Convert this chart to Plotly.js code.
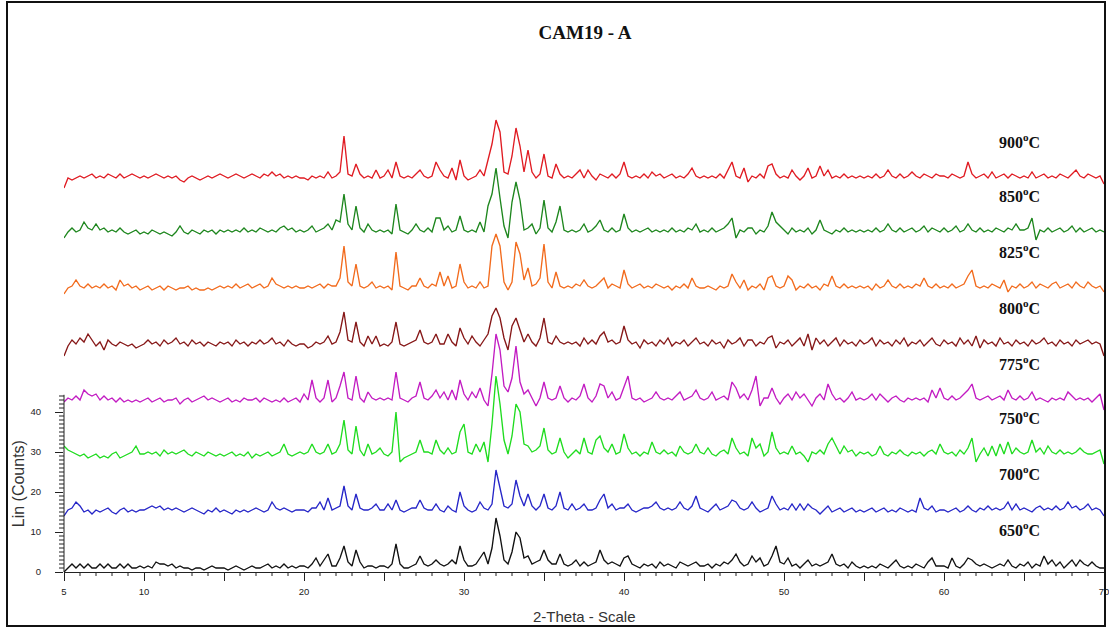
<!DOCTYPE html>
<html>
<head>
<meta charset="utf-8">
<script src="https://cdn.plot.ly/plotly-3.0.1.min.js"></script>
<style>
  html, body { margin: 0; padding: 0; background: #fff; }
  #wrap { position: relative; width: 1109px; height: 630px; }
  #chart { position: absolute; left: 0; top: 0; width: 1109px; height: 630px; }
  #frame { position: absolute; left: 6px; top: 1px; width: 1100px; height: 626px;
           box-sizing: border-box; border: 2px solid #111; pointer-events: none; }
</style>
</head>
<body>
<div id="wrap"><div id="chart"></div><div id="frame"></div></div>
<script>
// XRD scans of sample CAM19-A after firing at different temperatures.
// Scan: 5..70 deg 2-theta, 0.25 deg step. Each pattern is stacked with its own offset.
const scanStart = 5;
const scanStep = 0.25;

const temperatures = ['650', '700', '750', '775', '800', '825', '850', '900'];
const offsets = [0, 14, 28, 41.5, 55.5, 69.5, 83.5, 97];
const colors = ['#111111', '#2626c8', '#1fdc1f', '#c21bc2', '#861717', '#f26b1d', '#1d861d', '#e01b22'];

const counts650 = [
  0, 1, 2, 1, 2, 1, 2, 1, 1, 2, 1, 2, 1, 1, 2, 1, 2, 1, 1, 1.5,
  1, 1.5, 1, 2.5, 2, 2, 1.5, 2, 1, 1.5, 1, 1, 0.5, 1, 1, 0.5, 1, 1.5, 1, 1,
  1, 0.5, 1, 1.5, 1, 0.5, 1, 1.5, 1, 1, 1.5, 2, 1, 1.5, 1, 2, 1, 1.5, 1, 1.5,
  1.5, 1, 2, 3.5, 1.5, 3, 4.5, 1.5, 1.5, 3.5, 6.5, 2.5, 1.5, 5.5, 2.5, 1, 1.5, 1.5, 1, 1.5,
  1.5, 1, 2, 7, 2, 1, 1, 1.5, 2, 4, 2, 1.5, 2, 3, 2, 1.5, 2, 3, 2, 6.5,
  3, 1.5, 1.5, 2, 3.5, 5, 2, 6, 13.5, 9, 3, 2, 5, 10, 8.5, 3.5, 4, 2, 2.5, 3,
  5.5, 3, 2, 2, 4.5, 2, 1.5, 2, 3, 1.5, 2.5, 1.5, 2, 2.5, 5.5, 3, 2, 2.5, 2, 1.5,
  3.5, 4, 2, 1.5, 1, 2, 1.5, 2, 1, 2.5, 1.5, 2, 1.5, 1, 2.5, 2, 1.5, 2, 2.5, 1.5,
  1.5, 2, 1, 2, 1.5, 2.5, 2, 3, 4.5, 2.5, 1.5, 2, 4, 2.5, 3.5, 1.5, 2, 4, 6.5, 2.5,
  2, 3.5, 1.5, 2, 1, 2, 3, 1.5, 2, 1.5, 2, 2.5, 4.5, 2, 1.5, 2, 1, 2.5, 1.5, 1,
  1.5, 1, 1.5, 1, 2, 1.5, 1, 2, 3, 1.5, 1, 1.5, 1, 2, 1.5, 1, 2.5, 3.5, 1.5, 1.5,
  1.5, 1, 3.5, 1.5, 1, 2, 3.5, 3, 2, 1.5, 2, 1.5, 1, 1.5, 2, 1.5, 3, 1.5, 1, 2,
  1.5, 2.5, 1, 2, 1.5, 4, 2, 3, 1.5, 2.5, 1, 2, 3, 1.5, 3, 2, 1.5, 2.5, 1.5, 1,
  1
];

const counts700 = [
  0, 1.5, 2, 3.5, 2.5, 1, 1.5, 0.5, 1.5, 1, 1.5, 2, 1, 0.5, 1.5, 2, 1, 1.5, 1, 1.5,
  1.5, 2, 2.5, 2, 2.5, 1.5, 2, 1.5, 2, 1.5, 1, 1.5, 2, 1.5, 1, 0.5, 1.5, 1, 2, 1,
  1.5, 1, 0.5, 1.5, 1, 1.5, 1, 1.5, 2, 1.5, 1, 1.5, 3.5, 2, 1.5, 2, 1.5, 1, 1.5, 1.5,
  1.5, 1, 2, 2, 3.5, 1.5, 4.5, 1.5, 2, 2.5, 7.5, 2.5, 1.5, 5.5, 2, 1.5, 1.5, 2, 3, 1.5,
  1.5, 3, 1.5, 4, 1.5, 1, 1.5, 2, 2, 4, 2, 1.5, 1.5, 3, 1.5, 1, 2.5, 1.5, 1, 6,
  2.5, 1.5, 1, 1.5, 3.5, 2, 1.5, 3, 11.5, 7, 2.5, 2, 3, 9, 5, 2.5, 5.5, 2.5, 1.5, 2.5,
  5.5, 2, 1.5, 2.5, 6, 2, 1.5, 3, 1.5, 2, 3, 1.5, 1.5, 2, 4, 5.5, 2, 3, 1.5, 2,
  2, 3, 1.5, 1, 1.5, 2, 2, 2.5, 3.5, 2, 1.5, 2, 1.5, 2, 3.5, 2, 1.5, 2.5, 5, 2,
  1.5, 1, 2, 3, 1.5, 2, 2.5, 4, 3.5, 2, 1.5, 2, 3.5, 2, 1, 1.5, 2, 5, 3, 1.5,
  2, 1.5, 3, 1.5, 3, 1.5, 3, 2, 1.5, 0.5, 1.5, 2.5, 1, 1.5, 2, 1, 1.5, 2, 1, 1.5,
  1, 1.5, 2, 1, 1.5, 2, 1, 1.5, 1, 2, 1.5, 1, 1.5, 1, 4.5, 2, 1.5, 2.5, 1, 1.5,
  1.5, 1, 1.5, 2, 1, 1.5, 2.5, 1.5, 1, 2, 1.5, 2.5, 1.5, 2, 1.5, 2, 3.5, 1.5, 3, 1.5,
  2, 1.5, 1, 2, 2.5, 1.5, 2, 1.5, 2.5, 1.5, 2, 3.5, 2, 2.5, 1.5, 2, 3, 1.5, 2, 1.5,
  0
];

const counts750 = [
  3.5, 2.5, 2, 1.5, 1, 1.5, 0.5, 1, 1.5, 0.5, 1, 0.5, 1.5, 2, 0.5, 1, 1.5, 2, 3.5, 1.5,
  1.5, 2, 1.5, 2, 1, 2.5, 1.5, 2, 1.5, 2, 2.5, 1.5, 1, 2, 1.5, 1, 2, 1.5, 1, 1.5,
  1, 1.5, 2, 1, 1.5, 1, 2, 0.5, 1.5, 1, 1.5, 2, 1, 1.5, 2, 4, 1.5, 1, 1.5, 2,
  1.5, 2, 4, 2, 1.5, 2, 4, 1.5, 2, 4, 10, 2.5, 1.5, 8.5, 2.5, 1, 4, 1.5, 2, 3,
  1.5, 1, 2, 12, -0.5, 0.5, 1, 1.5, 2, 5, 2, 2, 1.5, 5, 2.5, 1.5, 3, 1.5, 2, 7,
  9, 2, 1.5, 4, 2, 4.5, -0.5, 9, 21, 14, 5, 1.5, 6, 14, 12, 4, 3.5, 2, 2.5, 3.5,
  8, 2.5, 1.5, 2, 5.5, 2, 0.5, 1.5, 2.5, 1.5, 5.5, 2, 1.5, 5, 6, 3, 2, 4, 1.5, 2,
  6.5, 3, 1.5, 2, 1, 2, 1.5, 4.5, 2, 1.5, 2.5, 1.5, 2, 1, 3.5, 2, 1.5, 2, 4, 2,
  1.5, 3, 1.5, 1, 2, 2.5, 1.5, 5.5, 3, 1.5, 2, 1, 5.5, 3, 4, 1, 2, 7, 3, 1.5,
  2, 1.5, 3.5, 1.5, 2, 1, -0.5, 2, 1.5, 2.5, 1.5, 4, 5.5, 3.5, 1.5, 3.5, 2, 2.5, 1, 2,
  1.5, 2, 1, 1.5, 3.5, 1.5, 1, 2, 1.5, 2.5, 1.5, 1, 2, 1.5, 2, 1, 2, 2.5, 1.5, 4,
  2, 1.5, 2, 1, 2.5, 1.5, 3, 5.5, -0.5, 1.5, 3, 1, 3.5, 1, 4, 1.5, 4.5, 1.5, 3, 2,
  1.5, 2, 5, 2, 3, 1.5, 3.5, 2, 1.5, 2.5, 1.5, 2, 1.5, 2, 3, 2, 1.5, 1.5, 2, 2.5,
  -1
];

const counts775 = [
  1, 2, 1.5, 2.5, 1.5, 4, 3, 2.5, 3, 1.5, 2.5, 1.5, 2, 1, 2, 1, 1.5, 1, 1.5, 1,
  1.5, 2, 1, 1.5, 2, 1, 1.5, 1.5, 2, 0.5, 1.5, 2, 1, 1.5, 2, 2.5, 1.5, 2, 1.5, 1,
  1.5, 2, 1, 1.5, 1, 2, 1.5, 1.5, 2, 1, 2, 1.5, 1, 1.5, 1, 2, 1, 1.5, 2, 1,
  3, 1.5, 6.5, 2, 1, 2, 6.5, 1, 2, 5, 8.5, 2, 1.5, 7.5, 2, 1, 3.5, 2, 1.5, 2,
  1.5, 2, 1.5, 8.5, 2, 1.5, 1, 2, 2.5, 6, 2, 1.5, 2.5, 4, 2, 3.5, 1.5, 4, 1.5, 6.5,
  3, 1.5, 3.5, 2, 4.5, 1.5, 0, 8, 18, 14, 5, 3.5, 7, 15, 6, 3, 4, 2, 0, 2,
  6, 2, 1.5, 2, 5, 2, 1, 2, 1.5, 2.5, 5.5, 2, 1, 2.5, 5.5, 5, 2, 3.5, 1.5, 2,
  5, 7.5, 2, 1.5, 2, 1, 1.5, 2, 3.5, 2, 1.5, 2, 1.5, 2.5, 3.5, 1.5, 2, 2.5, 4, 2,
  1.5, 2, 3.5, 1.5, 2, 2.5, 1.5, 6, 4.5, 2, 3, 1.5, 4, 7.5, 0, 2, 2, 4.5, 2, 0.5,
  2, 3, 1.5, 3.5, 2, 3, 1.5, 0, 2, 3, 1.5, 5.5, 3, 1.5, 2, 1, 2, 3.5, 1.5, 2,
  1.5, 2, 3, 1.5, 3, 2, 1, 2, 2.5, 1.5, 1, 2, 1.5, 2, 1.5, 2, 1, 4, 2, 4.5,
  2, 1.5, 2.5, 1.5, 2, 3, 4, 5.5, 2, 1.5, 2, 2.5, 1.5, 2, 2.5, 1.5, 4, 2, 1.5, 2.5,
  1.5, 2, 3.5, 1.5, 2, 1.5, 1, 2, 1.5, 2, 1.5, 3.5, 2.5, 1.5, 2, 1.5, 2, 1, 2, 3,
  -1
];

const counts800 = [
  -1.5, 1, 2.5, 1.5, 3, 2, 4, 2.5, 1, 2, 0, 2.5, 1.5, 1, 2, 1.5, 1, 1.5, 0.5, 1,
  1.5, 2.5, 1.5, 2, 1, 2.5, 1.5, 2, 3, 1.5, 2, 1, 2.5, 1.5, 2, 1, 2, 1.5, 1, 2,
  1.5, 2, 1, 2.5, 1.5, 2, 1, 2, 1.5, 2.5, 1.5, 2, 3, 1.5, 2, 1, 2.5, 1.5, 1, 1.5,
  1.5, 0.5, 1, 2, 1.5, 2, 3.5, 1.5, 2, 4.5, 9.5, 2.5, 2, 7, 2, 1, 3.5, 1.5, 3.5, 1,
  1.5, 1, 2, 7, 1.5, 1, 1.5, 2, 2.5, 5, 2, 1.5, 2, 4, 1.5, 1.5, 4, 2, 1, 5.5,
  3, 1.5, 3.5, 2, 1, 2.5, 4, 8.5, 10.5, 8, 3, 0, 6, 8, 5, 2, 4, 2, 1, 3,
  8, 2, 1.5, 3.5, 2, 1.5, 2, 1.5, 2, 1, 3, 1.5, 2.5, 1.5, 3.5, 4.5, 2, 2.5, 1.5, 2,
  6, 2.5, 1.5, 2, 0.5, 2.5, 1.5, 2, 1, 2.5, 1.5, 3, 1, 2, 1.5, 2.5, 1, 2, 3, 1.5,
  2, 1, 2.5, 1.5, 2, 0.5, 2.5, 1.5, 2, 3, 1, 2.5, 2.5, 1, 2, 1.5, 3, 3.5, 0.5, 2,
  1.5, 2.5, 1, 2, 3, 1, 4, 0, 3, 1.5, 2.5, 1, 2, 3, 1, 2.5, 1.5, 2, 1, 2.5,
  1.5, 2, 3, 1, 2.5, 1.5, 2, 1, 2.5, 1.5, 3, 1, 2, 1.5, 2.5, 1, 2, 3, 1.5, 1,
  2.5, 1.5, 2, 1, 3, 1.5, 2.5, 1, 3.5, 0.5, 2.5, 1.5, 2, 1, 3, 1.5, 2, 1, 2.5, 1.5,
  2, 1, 2.5, 1.5, 2, 3, 1.5, 2, 1, 2.5, 1.5, 2, 1, 2.5, 1.5, 2, 2.5, 1.5, 2, 1.5,
  -1.5
];

const counts825 = [
  0, 1.5, 2, 3.5, 2, 1.5, 2.5, 1.5, 2, 1.5, 2.5, 1.5, 2, 1, 3.5, 2, 2.5, 1.5, 2, 1,
  1.5, 2, 1, 1.5, 2, 1, 2, 1.5, 1, 1.5, 1.5, 2, 1, 1.5, 1, 1, 1.5, 1, 1.5, 2,
  1.5, 2, 1.5, 2.5, 1.5, 2, 2.5, 1.5, 2, 2.5, 1.5, 2, 4, 2.5, 2, 1.5, 2, 1.5, 2, 1.5,
  1.5, 2, 1.5, 2, 2.5, 1.5, 2.5, 2, 2, 4, 12, 3, 2, 7.5, 2, 1.5, 2, 3, 1.5, 2,
  1.5, 2, 1, 10.5, 2, 1.5, 1, 2, 2, 4, 2, 1.5, 2.5, 2, 5.5, 2, 4.5, 1.5, 2, 7.5,
  3, 1.5, 2, 1.5, 3, 1.5, 2, 12, 15, 12, 3, 1, 3, 13, 10, 3.5, 6.5, 2, 2.5, 4,
  12.5, 3, 1.5, 5.5, 2, 1.5, 2, 1.5, 2.5, 2, 3.5, 2, 1.5, 2, 3, 4, 1.5, 2.5, 2, 1.5,
  6, 2.5, 1.5, 2, 2.5, 1.5, 2, 1.5, 2.5, 2, 1.5, 2, 1, 2, 1.5, 2.5, 1.5, 4, 2, 1.5,
  1.5, 2, 1.5, 1, 2, 1.5, 2, 5, 3, 1.5, 3.5, 1, 2, 1.5, 2.5, 1, 4, 4.5, 2, 1.5,
  2, 4.5, 3.5, 1, 2, 1.5, 2.5, 1.5, 2, 1, 2.5, 2, 4.5, 2, 1.5, 2.5, 1.5, 2, 1.5, 2,
  1.5, 2, 1, 2.5, 1.5, 2, 3.5, 2, 1.5, 2.5, 1.5, 2, 1.5, 2.5, 2, 4, 2, 1.5, 2.5, 1.5,
  2, 1.5, 2.5, 1.5, 2, 2.5, 4.5, 6, 2, 1.5, 2, 1.5, 2.5, 2, 1.5, 3.5, 0.5, 2, 1.5, 2.5,
  1.5, 2, 3, 1.5, 2.5, 2, 1.5, 2.5, 3, 1.5, 2, 2.5, 1.5, 3, 2, 1.5, 3, 2, 1.5, 2,
  0.5
];

const counts850 = [
  0, 1.5, 2.5, 1.5, 2, 4, 2.5, 2, 3.5, 2, 2.5, 1.5, 2, 1.5, 2.5, 1.5, 1, 1.5, 2, 1,
  1.5, 1, 2, 1.5, 1, 1.5, 1, 0.5, 1.5, 3, 1.5, 1, 2, 1.5, 1, 2, 1.5, 2, 1, 2,
  1.5, 2, 1.5, 2, 1.5, 2.5, 1.5, 2, 1.5, 2.5, 2, 1.5, 2, 1.5, 2.5, 3, 2, 2.5, 1.5, 2,
  1.5, 2, 3, 1.5, 2, 2.5, 3.5, 2, 4.5, 4, 11, 3.5, 2, 8, 2.5, 1.5, 3.5, 2, 1.5, 2,
  1.5, 2, 1, 8.5, 2, 1.5, 1, 2, 3.5, 2, 1.5, 2.5, 1.5, 5, 5, 2, 3, 1.5, 2, 5.5,
  2, 1.5, 2, 1.5, 4, 1.5, 8, 11, 17.5, 10, 3, 0, 9, 14, 9.5, 2, 2.5, 3.5, 1, 2.5,
  9.5, 2.5, 1.5, 4, 8, 2, 1.5, 2, 1.5, 2, 3.5, 1.5, 2, 3, 4.5, 2, 1.5, 2.5, 1.5, 2,
  6, 2.5, 1.5, 2, 1.5, 2, 2.5, 1.5, 2, 1.5, 2, 1.5, 2.5, 1.5, 2, 1.5, 2.5, 2, 3.5, 1.5,
  2, 1.5, 2.5, 1.5, 2, 2.5, 3.5, 5, 0, 2, 1.5, 2.5, 2.5, 1, 2, 1.5, 3, 6.5, 4, 3,
  2, 1, 2.5, 1.5, 2, 1.5, 2.5, 1, 2, 4.5, 2, 1.5, 1, 2, 1.5, 2.5, 1.5, 2, 1.5, 2,
  1.5, 2, 1.5, 2.5, 1.5, 2, 3.5, 2, 1.5, 2.5, 1.5, 2, 2.5, 1.5, 2, 3, 1.5, 2.5, 2, 1.5,
  2.5, 1.5, 2, 3, 1.5, 2, 3.5, 2, 1.5, 2.5, 1.5, 2, 1.5, 2.5, 2, 1.5, 2.5, 2, 3.5, 2,
  2, 2.5, 5, -0.5, 2, 1.5, 2.5, 1.5, 2, 2.5, 1.5, 2, 3, 1.5, 2.5, 1.5, 2, 2.5, 1.5, 2,
  1.5
];

const counts900 = [
  -1, 1.5, 1, 1.5, 2, 1.5, 2, 2.5, 1.5, 2, 1.5, 2.5, 2, 1.5, 2.5, 1.5, 2, 2.5, 2, 1.5,
  2, 1.5, 2, 2.5, 2, 1.5, 2, 1.5, 2, 1, 0.5, 1.5, 2, 1.5, 1, 1.5, 2, 1.5, 2, 2.5,
  2, 1.5, 2, 2.5, 2, 1.5, 2, 2.5, 2, 1.5, 2.5, 2, 3, 2, 2.5, 1.5, 2, 1.5, 2, 1.5,
  1.5, 1, 2, 1.5, 2, 1.5, 3, 1.5, 2, 3, 12, 2.5, 2, 5, 2.5, 1.5, 2, 1.5, 3.5, 1.5,
  2, 3.5, 1.5, 5.5, 2, 1.5, 2, 1.5, 2.5, 3.5, 2, 1.5, 2, 5.5, 3.5, 2, 1.5, 4, 1, 6,
  2, 1, 1.5, 2, 3.5, 2, 6, 10, 16, 13, 3, 2.5, 7, 14, 9.5, 3, 8.5, 3, 1.5, 2.5,
  7.5, 2, 1.5, 5, 2.5, 1.5, 2, 1.5, 2.5, 3.5, 1.5, 3.5, 2, 1, 2.5, 2, 1.5, 2.5, 1.5, 2.5,
  5.5, 2, 1.5, 2, 1.5, 2.5, 1.5, 3, 2, 2.5, 1.5, 2, 2.5, 1.5, 2, 1.5, 2.5, 4, 2, 1.5,
  2, 1.5, 2, 1.5, 2.5, 1.5, 3.5, 5.5, 2, 1.5, 4, 0.5, 2, 1.5, 2.5, 1.5, 4.5, 5, 2.5, 1.5,
  2, 1.5, 3.5, 2, 1, 2, 4, 1.5, 2, 4.5, 2, 3.5, 1.5, 2, 1.5, 2.5, 1.5, 2, 1.5, 2,
  1.5, 2, 1.5, 2.5, 1.5, 2, 3.5, 2, 1.5, 2.5, 1.5, 2, 3, 2, 1.5, 2.5, 2, 1.5, 2.5, 2,
  2, 1.5, 2.5, 2, 1.5, 2, 5.5, 2.5, 1.5, 2, 2.5, 1.5, 3, 1.5, 2, 2.5, 1.5, 2.5, 2, 1.5,
  2, 1.5, 3, 1.5, 2, 2.5, 1.5, 2, 1.5, 2.5, 2, 1.5, 2.5, 3.5, 2, 1.5, 2.5, 2, 1.5, 2,
  0
];

const patterns = [counts650, counts700, counts750, counts775, counts800, counts825, counts850, counts900];

const xTickVals = [5, 10, 15, 20, 25, 30, 35, 40, 45, 50, 55, 60, 65, 70];
const xTickText = ['5', '10', '', '20', '', '30', '', '40', '', '50', '', '60', '', '70'];
const yTickVals = [0, 10, 20, 30, 40];
const yAxisTop = 44.3;   // the counts scale is only drawn for the lowest patterns
const labelGap = 10.75;  // temperature label height above each pattern's offset
const labelX = 64.7;

const twoTheta = counts650.map((_, i) => scanStart + i * scanStep);

const traces = patterns.map((vals, k) => ({
  type: 'scatter',
  mode: 'lines',
  x: twoTheta,
  y: vals.map(v => v + offsets[k]),
  line: { color: colors[k], width: 1.35 },
  hoverinfo: 'skip',
  showlegend: false
}));

// plot area size in px, used to express tick lengths as paper fractions
const plotW = 1109 - 64 - 5;
const plotH = 630 - 60 - 58;

const shapes = [{
  type: 'line', xref: 'paper', yref: 'y',
  x0: 0, x1: 0, y0: 0, y1: yAxisTop,
  line: { color: '#222', width: 1 }
}];
// minor ticks: every 1 deg along 2-theta, every 1 count on the counts scale
for (let d = 6; d < 70; d++) {
  if (d % 5 === 0) continue;
  shapes.push({ type: 'line', xref: 'x', yref: 'paper', x0: d, x1: d, y0: 0, y1: -4 / plotH,
                line: { color: '#222', width: 1 } });
}
for (let c = 1; c <= Math.floor(yAxisTop); c++) {
  if (c % 10 === 0) continue;
  shapes.push({ type: 'line', xref: 'paper', yref: 'y', x0: -5 / plotW, x1: 0, y0: c, y1: c,
                line: { color: '#222', width: 1 } });
}

const serif = 'Liberation Serif, Times New Roman, serif';
const sans = 'Liberation Sans, Arial, sans-serif';

const annotations = temperatures.map((t, k) => ({
  xref: 'x', yref: 'y',
  x: labelX, y: offsets[k] + labelGap,
  text: '<b>' + t + '<sup>o</sup>C</b>',
  showarrow: false,
  xanchor: 'center', yanchor: 'middle',
  font: { family: serif, size: 16, color: '#111' }
}));

annotations.push({
  xref: 'paper', yref: 'y',
  x: -0.044, y: 22,
  text: 'Lin (Counts)', textangle: -90,
  showarrow: false, xanchor: 'center', yanchor: 'middle',
  font: { family: sans, size: 16, color: '#333' }
});
annotations.push({
  xref: 'paper', yref: 'paper',
  x: 0.5, y: -0.086,
  text: '2-Theta - Scale',
  showarrow: false, xanchor: 'center', yanchor: 'middle',
  font: { family: sans, size: 15, color: '#333' }
});

const layout = {
  width: 1109, height: 630,
  margin: { l: 64, r: 5, t: 60, b: 58 },
  paper_bgcolor: '#ffffff', plot_bgcolor: '#ffffff',
  title: {
    text: '<b>CAM19 - A</b>',
    font: { family: serif, size: 19, color: '#111' },
    xref: 'container', yref: 'container',
    x: 0.5275, y: 1 - 32 / 630, xanchor: 'center', yanchor: 'middle'
  },
  xaxis: {
    range: [5, 70],
    showgrid: false, zeroline: false,
    showline: true, linecolor: '#222', linewidth: 1,
    tickmode: 'array', tickvals: xTickVals, ticktext: xTickText,
    ticks: 'outside', ticklen: 8, tickwidth: 1, tickcolor: '#222',
    ticklabelstandoff: 3,
    ticklabeloverflow: 'allow',
    tickfont: { family: sans, size: 9.5, color: '#222' }
  },
  yaxis: {
    range: [0, 128],
    showgrid: false, zeroline: false, showline: false,
    tickmode: 'array', tickvals: yTickVals,
    ticks: 'outside', ticklen: 8, tickwidth: 1, tickcolor: '#222',
    ticklabelstandoff: 12,
    tickfont: { family: sans, size: 9.5, color: '#222' }
  },
  shapes: shapes,
  annotations: annotations
};

Plotly.newPlot('chart', traces, layout, { displayModeBar: false, staticPlot: true });
</script>
</body>
</html>
